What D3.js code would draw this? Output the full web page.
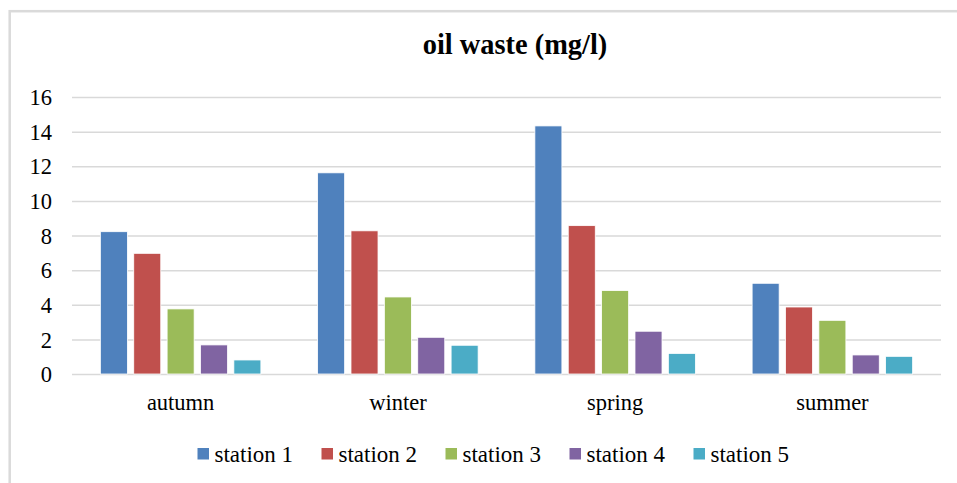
<!DOCTYPE html>
<html>
<head>
<meta charset="utf-8">
<script src="https://cdn.jsdelivr.net/npm/d3@7"></script>
<style>
  body { margin: 0; background: #fff; }
</style>
</head>
<body>
<div id="chart"></div>
<script>
// Data
const seasons = ["autumn", "winter", "spring", "summer"];
const stations = ["station 1", "station 2", "station 3", "station 4", "station 5"];
const station1 = [8.22, 11.62, 14.33, 5.24];
const station2 = [6.97, 8.27, 8.57, 3.87];
const station3 = [3.76, 4.45, 4.82, 3.10];
const station4 = [1.68, 2.12, 2.47, 1.10];
const station5 = [0.81, 1.66, 1.19, 1.02];
const yTicks = [0, 2, 4, 6, 8, 10, 12, 14, 16];

const series = [station1, station2, station3, station4, station5];
const colors = ["#4f81bd", "#c0504d", "#9bbb59", "#8064a2", "#4bacc6"];
const serif = "'Liberation Serif', 'Times New Roman', Times, 'DejaVu Serif', serif";

const W = 957, H = 483;
const margin = {top: 97, right: 16, bottom: 109, left: 72};
const width = W - margin.left - margin.right,
      height = H - margin.top - margin.bottom;

const svg = d3.select("#chart")
  .append("svg")
  .attr("width", W)
  .attr("height", H)
  .attr("font-family", serif);

// Outer chart frame (cut off on the right and bottom)
svg.append("rect")
  .attr("x", 9.7)
  .attr("y", 11.2)
  .attr("width", W + 20)
  .attr("height", H + 20)
  .attr("fill", "none")
  .attr("stroke", "#dadada")
  .attr("stroke-width", 2.5);

const g = svg.append("g")
  .attr("transform", `translate(${margin.left},${margin.top})`);

// Scales
const x0 = d3.scaleBand()
  .domain(seasons)
  .range([0, width])
  .padding(0);

const x1 = d3.scaleBand()
  .domain(d3.range(stations.length))
  .range([0, x0.bandwidth()])
  .paddingInner(0.19)
  .paddingOuter(0.85);

const y = d3.scaleLinear()
  .domain([0, 16])
  .range([height, 0]);

// Gridlines
g.append("g")
  .call(d3.axisLeft(y).tickValues(yTicks).tickSize(-width).tickFormat(""))
  .call(s => s.select(".domain").remove())
  .selectAll("line")
  .attr("stroke", "#d9d9d9")
  .attr("stroke-width", 1.5);

// Y axis labels
g.append("g")
  .call(d3.axisLeft(y).tickValues(yTicks).tickSize(0).tickPadding(20))
  .call(s => s.select(".domain").remove())
  .attr("font-family", null)
  .selectAll("text")
  .style("font-family", serif)
  .style("font-size", "22.5px")
  .attr("dy", "0.34em")
  .attr("fill", "#000");

// Bars
const groups = g.selectAll(".season")
  .data(seasons)
  .enter()
  .append("g")
  .attr("transform", d => `translate(${x0(d)},0)`);

groups.selectAll("rect")
  .data((d, i) => series.map((s, k) => ({k: k, v: s[i]})))
  .enter()
  .append("rect")
  .attr("x", d => x1(d.k))
  .attr("y", d => y(d.v))
  .attr("width", x1.bandwidth())
  .attr("height", d => height - y(d.v))
  .attr("fill", d => colors[d.k])
  .attr("stroke", "#fff")
  .attr("stroke-width", 0.8);

// X axis labels
g.append("g")
  .attr("transform", `translate(0,${height})`)
  .call(d3.axisBottom(x0).tickSize(0).tickPadding(20))
  .call(s => s.select(".domain").remove())
  .attr("font-family", null)
  .selectAll("text")
  .style("font-family", serif)
  .style("font-size", "22.5px")
  .attr("fill", "#000");

// Title
svg.append("text")
  .attr("x", 515)
  .attr("y", 54)
  .attr("text-anchor", "middle")
  .style("font-family", serif)
  .style("font-size", "28.4px")
  .style("font-weight", "bold")
  .text("oil waste (mg/l)");

// Legend
const legend = svg.selectAll(".legend")
  .data(stations)
  .enter()
  .append("g")
  .attr("transform", (d, i) => `translate(${197.5 + i * 124},454)`);

legend.append("rect")
  .attr("x", 0)
  .attr("y", -6)
  .attr("width", 11.5)
  .attr("height", 11.5)
  .attr("fill", (d, i) => colors[i]);

legend.append("text")
  .attr("x", 17)
  .attr("y", 7.5)
  .style("font-family", serif)
  .style("font-size", "23px")
  .text(d => d);
</script>
</body>
</html>
